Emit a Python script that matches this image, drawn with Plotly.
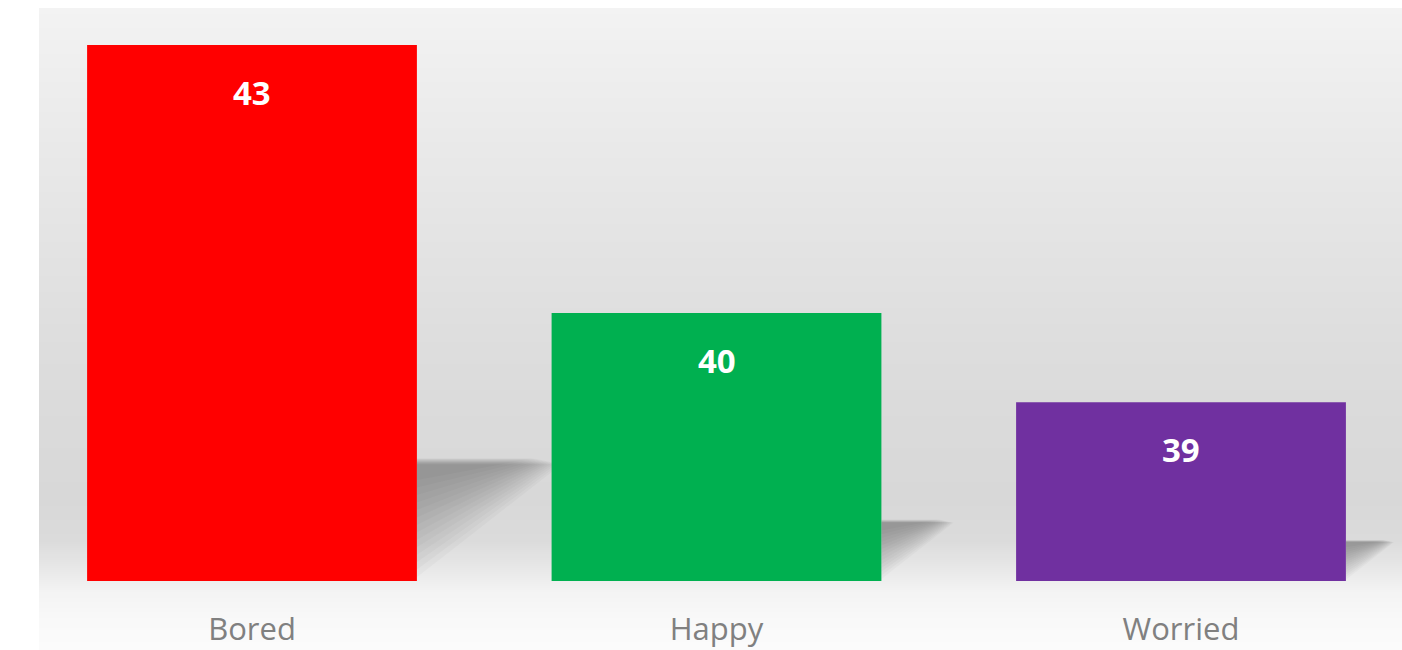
import plotly.graph_objects as go

categories = ["Bored", "Happy", "Worried"]
values = [43, 40, 39]
bar_colors = ["#FF0000", "#00B050", "#7030A0"]

W, H = 1402, 650
y_min = 37
px_per_unit = 89.33
base_px = 581
y_max = y_min + base_px / px_per_unit
step_px = 464.5
first_center_px = 252
x_lo = -first_center_px / step_px
x_hi = (W - first_center_px) / step_px
bar_w = 0.71

xs = list(range(len(categories)))

fig = go.Figure()
fig.add_trace(go.Bar(
    x=xs, y=values, width=bar_w,
    marker=dict(color=bar_colors, line=dict(width=0)),
    hoverinfo="x+y", showlegend=False,
))

shapes = []
# background gradient (styling)
stops = [(8, 243), (60, 239), (150, 233), (250, 227), (350, 221), (430, 218),
         (500, 216), (540, 219), (565, 230), (590, 243), (620, 249), (650, 251)]
def level(y):
    for (y0, c0), (y1, c1) in zip(stops[:-1], stops[1:]):
        if y0 <= y <= y1:
            t = (y - y0) / (y1 - y0)
            return c0 + (c1 - c0) * t
    return stops[-1][1]
band = 2
y = 8
while y < H:
    c = int(round(level(y + band / 2)))
    shapes.append(dict(type="rect", xref="paper", yref="paper", layer="below",
                       x0=39 / W, x1=1.0, y0=1 - (y + band + 0.5) / H, y1=1 - y / H,
                       fillcolor=f"rgb({c},{c},{c})", line=dict(width=0)))
    y += band

# soft floor shadows to the right of each bar (derived from bar values)
N = 14
for i, v in enumerate(values):
    h = v - y_min
    xr = i + bar_w / 2
    top = y_min + 0.23 * h
    length = 0.052 * h
    for j in range(N):
        k = j / N
        t = top - 0.012 * h * (1 - k)
        xe = xr + length * (1 - 0.2 * k)
        yb = y_min + (top - y_min) * (0.03 + 0.85 * k)
        path = (f"M {xr},{t} L {xe},{t} "
                f"L {xr + (xe - xr) * 0.2},{yb + (t - yb) * 0.2} "
                f"L {xr},{yb} Z")
        shapes.append(dict(type="path", xref="x", yref="y", layer="below",
                           path=path, fillcolor="rgba(0,0,0,0.022)",
                           line=dict(width=0)))

annotations = []
for i, v in enumerate(values):
    annotations.append(dict(x=i, y=v, xref="x", yref="y", text=f"<b>{v}</b>",
                            showarrow=False, yshift=-47, yanchor="middle",
                            font=dict(family="Open Sans", size=33, color="white")))

fig.update_layout(
    width=W, height=H,
    margin=dict(l=0, r=0, t=0, b=0),
    paper_bgcolor="white", plot_bgcolor="rgba(0,0,0,0)",
    shapes=shapes, annotations=annotations,
    bargap=0.29,
    xaxis=dict(range=[x_lo, x_hi], domain=[0, 1], tickmode="array", tickvals=xs,
               ticktext=categories, showgrid=False, zeroline=False, showline=False,
               ticks="", tickfont=dict(family="Open Sans", size=31, color="#808080"),
               ticklabelstandoff=27, fixedrange=True),
    yaxis=dict(range=[y_min, y_max], domain=[(H - base_px) / H, 1], showgrid=False,
               zeroline=False, showline=False, showticklabels=False, ticks="",
               fixedrange=True),
    font=dict(family="Open Sans"),
)

fig.write_html("out.html")
